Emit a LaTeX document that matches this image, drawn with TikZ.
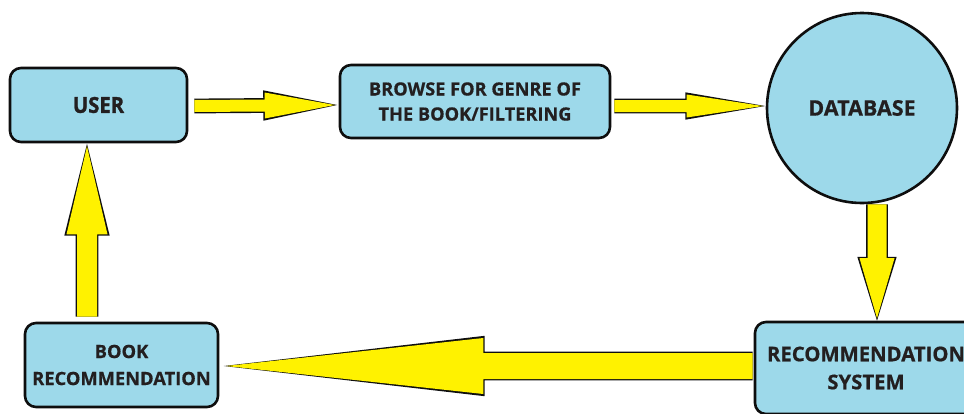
\documentclass[tikz,border=0pt]{standalone}
\usepackage{fontspec}
\setmainfont{Open Sans}
\newfontfamily\heavy[BoldFeatures={FakeBold=1.5}]{Open Sans}
\newfontfamily\semiheavy[BoldFeatures={FakeBold=0.6}]{Open Sans}
\usetikzlibrary{calc}
\definecolor{boxblue}{RGB}{157,217,234}
\definecolor{arrowyellow}{RGB}{255,242,0}
\definecolor{txt}{RGB}{35,31,32}
\definecolor{outline}{RGB}{14,14,14}
% #1 start, #2 tip, #3 shaft half width, #4 head half width, #5 head length
\newcommand\blockarrow[5]{%
  \path ($(#2)!#5!(#1)$) coordinate (hb)
    ($(#2)!#5+1.4pt!(#1)$) coordinate (hbo)
    ($(#2)!-2.5pt!(#1)$) coordinate (tipo)
    ($(#1)!#3!90:(#2)$) coordinate (p1)
    ($(hb)!#3!-90:(#1)$) coordinate (p2)
    ($(hb)!#4!-90:(#1)$) coordinate (p3)
    ($(hb)!#4!90:(#1)$) coordinate (p4)
    ($(hb)!#3!90:(#1)$) coordinate (p5)
    ($(#1)!#3!-90:(#2)$) coordinate (p6)
    ($(#1)!#3+1.4pt!90:(#2)$) coordinate (q1)
    ($(hbo)!#3+1.4pt!-90:(#1)$) coordinate (q2)
    ($(hbo)!#4+2.2pt!-90:(#1)$) coordinate (q3)
    ($(hbo)!#4+2.2pt!90:(#1)$) coordinate (q4)
    ($(hbo)!#3+1.4pt!90:(#1)$) coordinate (q5)
    ($(#1)!#3+1.4pt!-90:(#2)$) coordinate (q6);
  \begin{scope}[color=outline]
    \fill (q1) -- (q2) -- (q3) -- (tipo) -- (q4) -- (q5) -- (q6) -- cycle;
  \end{scope}
  \begin{scope}[color=arrowyellow]
    \fill (p1) -- (p2) -- (p3) -- (#2) -- (p4) -- (p5) -- (p6) -- cycle;
  \end{scope}
}
\begin{document}
\begin{tikzpicture}[x=1pt,y=-1pt,
  box/.style={draw=outline,line width=2.6pt,fill=boxblue,rounded corners=11pt,align=center,
    text=txt,inner sep=0pt}]
\useasboundingbox (0,0) rectangle (964,413);
\node[box,minimum width=177pt,minimum height=74pt,font=\heavy\bfseries\fontsize{22}{26}\selectfont] (user) at (98.5,105)
  {\scalebox{0.92}[1]{USER}};
\node[box,minimum width=270pt,minimum height=73pt,font=\semiheavy\bfseries\fontsize{18.2}{25}\selectfont] (browse) at (475,101.5)
  {BROWSE FOR GENRE OF\\THE BOOK/FILTERING};
\node[draw=outline,line width=2.6pt,fill=boxblue,circle,minimum size=190pt,inner sep=0pt,
  text=txt,font=\semiheavy\bfseries\fontsize{21.5}{22}\selectfont] (db) at (862,108) {DATABASE};
\node[box,minimum width=222pt,minimum height=92pt,font=\semiheavy\bfseries\fontsize{20.3}{28}\selectfont] (recsys) at (866,368)
  {RECOMMENDATION\\SYSTEM};
\node[box,minimum width=193pt,minimum height=84pt,font=\semiheavy\bfseries\fontsize{18.3}{27}\selectfont] (bookrec) at (121.5,365)
  {BOOK\\RECOMMENDATION};
% arrows
\coordinate (a1s) at ($(user.east)+(6,1)$);
\coordinate (a1t) at ($(browse.west)+(-4,3.5)$);
\blockarrow{a1s}{a1t}{6pt}{13pt}{70pt}
\coordinate (a2s) at ($(browse.east)+(3,4.5)$);
\coordinate (a2t) at ($(db.west)+(-3,-2)$);
\blockarrow{a2s}{a2t}{6pt}{11.5pt}{76pt}
\coordinate (a3s) at ($(db.south)+(15,0)$);
\coordinate (a3t) at ($(a3s |- recsys.north)+(0,-2.5)$);
\blockarrow{a3s}{a3t}{9.5pt}{17.5pt}{60pt}
\coordinate (a4s) at ($(recsys.west)+(-1,-2)$);
\coordinate (a4t) at ($(bookrec.east)+(7,1)$);
\blockarrow{a4s}{a4t}{13pt}{28pt}{257pt}
\coordinate (a5s) at ($(bookrec.north)+(-34.5,-5)$);
\coordinate (a5t) at ($(a5s |- user.south)+(0,3)$);
\blockarrow{a5s}{a5t}{10pt}{20.5pt}{88pt}
\end{tikzpicture}
\end{document}
